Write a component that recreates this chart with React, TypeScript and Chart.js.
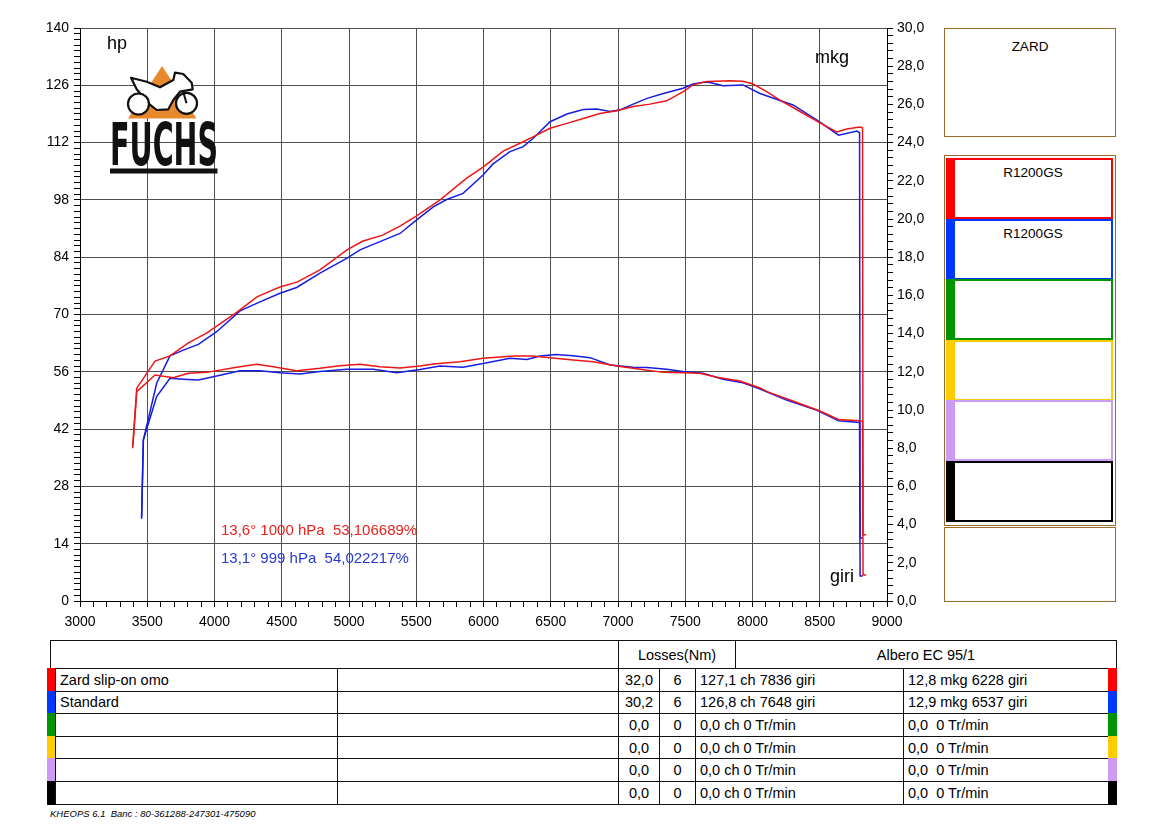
import React, { useEffect, useRef } from "react";
import { Chart, registerables } from "chart.js";

Chart.register(...registerables);

// Zard slip-on omo (red) - power curve, hp
const zardHpRpm = [3392, 3422, 3558, 3669, 3803, 3944, 4019, 4167, 4316, 4413, 4487, 4613, 4784, 4985, 5100, 5250, 5379, 5503, 5677, 5875, 5997, 6146, 6295, 6368, 6495, 6620, 6742, 6866, 6992, 7113, 7238, 7362, 7483, 7558, 7660, 7836, 7929, 8004, 8108, 8204, 8353, 8502, 8626, 8700, 8799, 8818, 8822, 8845];
const zardHp = [37.9, 52.0, 58.6, 59.9, 63.0, 65.5, 67.2, 70.6, 74.3, 75.7, 76.7, 77.9, 80.9, 85.8, 87.9, 89.4, 91.6, 94.1, 98.0, 103.3, 106.0, 109.9, 112.2, 113.4, 115.5, 116.7, 117.9, 119.1, 119.8, 120.8, 121.4, 122.2, 124.4, 126.1, 126.9, 127.1, 127.0, 126.3, 124.4, 122.4, 119.6, 116.8, 114.6, 115.3, 115.8, 115.6, 16.2, 16.2];

// Zard slip-on omo (red) - torque curve, mkg
const zardMkgRpm = [3392, 3422, 3558, 3694, 3805, 3942, 4165, 4314, 4437, 4611, 4784, 4933, 5082, 5230, 5379, 5528, 5627, 5825, 5997, 6228, 6368, 6495, 6666, 6816, 6992, 7164, 7338, 7483, 7610, 7734, 7907, 8056, 8108, 8279, 8502, 8638, 8799, 8818, 8822, 8845];
const zardMkg = [8.0, 10.96, 11.83, 11.69, 11.92, 11.97, 12.24, 12.39, 12.27, 12.06, 12.18, 12.32, 12.39, 12.27, 12.2, 12.3, 12.41, 12.53, 12.71, 12.83, 12.83, 12.74, 12.62, 12.53, 12.3, 12.13, 11.97, 11.95, 11.92, 11.71, 11.52, 11.15, 10.96, 10.52, 9.95, 9.5, 9.44, 9.42, 1.36, 1.36];

// Standard (blue) - power curve, hp
const stdHpRpm = [3458, 3471, 3570, 3669, 3768, 3880, 4016, 4190, 4338, 4487, 4611, 4784, 4983, 5082, 5230, 5379, 5503, 5627, 5726, 5848, 5997, 6071, 6197, 6295, 6368, 6495, 6620, 6742, 6843, 6941, 7015, 7113, 7216, 7338, 7483, 7558, 7648, 7684, 7781, 7929, 8056, 8178, 8301, 8480, 8640, 8777, 8796, 8800, 8820];
const stdHp = [20.6, 39.3, 53.2, 59.9, 61.3, 62.7, 65.8, 70.9, 73.1, 75.2, 76.6, 80.1, 83.7, 85.8, 87.8, 89.8, 93.1, 96.3, 98.1, 99.6, 104.1, 106.8, 109.8, 111.0, 113.0, 117.1, 119.0, 120.1, 120.2, 119.6, 120.0, 121.4, 122.8, 124.0, 125.3, 126.3, 126.8, 126.7, 125.9, 126.1, 124.0, 122.6, 121.2, 117.5, 113.8, 114.8, 114.4, 15.4, 15.4];

// Standard (blue) - torque curve, mkg
const stdMkgRpm = [3458, 3471, 3570, 3669, 3768, 3880, 4016, 4190, 4338, 4487, 4636, 4784, 4983, 5181, 5355, 5528, 5677, 5848, 5997, 6197, 6323, 6420, 6537, 6666, 6792, 6941, 7113, 7216, 7362, 7483, 7632, 7781, 7929, 8056, 8253, 8480, 8640, 8796, 8800, 8820];
const stdMkg = [4.3, 8.43, 10.7, 11.66, 11.61, 11.57, 11.78, 12.06, 12.06, 11.95, 11.88, 12.01, 12.13, 12.13, 11.95, 12.12, 12.3, 12.24, 12.44, 12.71, 12.65, 12.83, 12.9, 12.84, 12.74, 12.36, 12.24, 12.22, 12.13, 12.01, 11.92, 11.61, 11.43, 11.1, 10.52, 9.98, 9.44, 9.35, 1.31, 1.31];

// axis labels
const rpmLabels = [3000, 3500, 4000, 4500, 5000, 5500, 6000, 6500, 7000, 7500, 8000, 8500, 9000];
const hpLabels = [0, 14, 28, 42, 56, 70, 84, 98, 112, 126, 140];
const mkgLabels = [0, 2, 4, 6, 8, 10, 12, 14, 16, 18, 20, 22, 24, 26, 28, 30];

// table + side panel text
const runColors = ["#ff0000", "#0037ff", "#009400", "#ffcc00", "#cc9cf4", "#000000"];
const runNames = ["Zard slip-on omo", "Standard", "", "", "", ""];
const runLosses = ["32,0", "30,2", "0,0", "0,0", "0,0", "0,0"];
const runGear = ["6", "6", "0", "0", "0", "0"];
const runPower = ["127,1 ch 7836 giri", "126,8 ch 7648 giri", "0,0 ch 0 Tr/min", "0,0 ch 0 Tr/min", "0,0 ch 0 Tr/min", "0,0 ch 0 Tr/min"];
const runTorque = ["12,8 mkg 6228 giri", "12,9 mkg 6537 giri", "0,0  0 Tr/min", "0,0  0 Tr/min", "0,0  0 Tr/min", "0,0  0 Tr/min"];
const panelTitles = ["R1200GS", "R1200GS", "", "", "", ""];

const RED = "rgb(236,22,22)";
const BLUE = "rgb(24,28,222)";
const BROWN = "#9c6a2c";
const FONT = '"Liberation Sans", Arial, sans-serif';
const GRID = "#505050";

const pts = (xs: number[], ys: number[]) => xs.map((x, i) => ({ x, y: ys[i] }));
const near = (v: number, list: number[]) => list.some((l) => Math.abs(l - v) < 1e-6);

const DynoChart: React.FC = () => {
  const ref = useRef<HTMLCanvasElement>(null);

  useEffect(() => {
    if (!ref.current) return;
    const tickFont = { family: FONT, size: 14 };
    const chart = new Chart(ref.current, {
      type: "line",
      data: {
        datasets: [
          { data: pts(zardHpRpm, zardHp), borderColor: RED, yAxisID: "y" },
          { data: pts(zardMkgRpm, zardMkg), borderColor: RED, yAxisID: "y2" },
          { data: pts(stdHpRpm, stdHp), borderColor: BLUE, yAxisID: "y" },
          { data: pts(stdMkgRpm, stdMkg), borderColor: BLUE, yAxisID: "y2" },
        ],
      },
      options: {
        animation: false,
        responsive: false,
        layout: { padding: { top: 28, left: 0, right: 0, bottom: 0 } },
        elements: {
          point: { radius: 0 },
          line: { borderWidth: 1.5, tension: 0 },
        },
        plugins: {
          legend: { display: false },
          tooltip: { enabled: false },
        },
        scales: {
          x: {
            type: "linear",
            min: 3000,
            max: 9000,
            ticks: {
              stepSize: 100,
              autoSkip: false,
              maxRotation: 0,
              padding: 7,
              color: "#000",
              font: tickFont,
              callback: (v) => (near(Number(v), rpmLabels) ? String(v) : ""),
            },
            grid: {
              color: (c: any) => (near(c.tick.value, rpmLabels) ? GRID : "rgba(0,0,0,0)"),
              tickColor: "#000",
              tickLength: 6,
            },
            border: { color: "#000", width: 1 },
            afterFit: (s: any) => {
              s.height = 39;
            },
          },
          y: {
            position: "left",
            min: 0,
            max: 140,
            ticks: {
              stepSize: 1.4,
              autoSkip: false,
              padding: 5,
              color: "#000",
              font: tickFont,
              callback: (v) => {
                const n = Number(v);
                return near(n, hpLabels) ? String(Math.round(n)) : "";
              },
            },
            grid: {
              color: (c: any) => (near(c.tick.value, hpLabels) ? GRID : "rgba(0,0,0,0)"),
              tickColor: "#000",
              tickLength: 6,
            },
            border: { color: "#000", width: 1 },
            afterFit: (s: any) => {
              s.width = 80;
            },
          },
          y2: {
            position: "right",
            min: 0,
            max: 30,
            ticks: {
              stepSize: 0.4,
              autoSkip: false,
              padding: 4,
              color: "#000",
              font: tickFont,
              callback: (v) => {
                const n = Number(v);
                return near(n, mkgLabels) ? n.toFixed(1).replace(".", ",") : "";
              },
            },
            grid: {
              drawOnChartArea: false,
              tickColor: "#000",
              tickLength: 6,
            },
            border: { color: "#000", width: 1 },
            afterFit: (s: any) => {
              s.width = 53;
            },
          },
        },
      },
    });
    return () => {
      chart.destroy();
    };
  }, []);

  return (
    <canvas
      ref={ref}
      width={940}
      height={640}
      style={{ position: "absolute", left: 0, top: 0, width: 940, height: 640 }}
    />
  );
};

const abs = (x: number, y: number, w: number, h: number, extra: React.CSSProperties = {}): React.CSSProperties => ({
  position: "absolute",
  left: x,
  top: y,
  width: w,
  height: h,
  boxSizing: "border-box",
  ...extra,
});

const Cell: React.FC<{ x: number; y: number; w: number; h: number; text?: string; align?: "left" | "center" }> = ({
  x,
  y,
  w,
  h,
  text,
  align = "left",
}) => (
  <div
    style={abs(x, y, w, h, {
      border: "1px solid #111",
      background: "#fff",
      display: "flex",
      alignItems: "center",
      justifyContent: align === "center" ? "center" : "flex-start",
      paddingLeft: align === "center" ? 0 : 4,
      fontSize: 14.5,
      whiteSpace: "pre",
      overflow: "hidden",
    })}
  >
    {text}
  </div>
);

const Logo: React.FC = () => (
  <svg style={{ position: "absolute", left: 100, top: 60, width: 130, height: 120 }} viewBox="100 60 130 120">
    <polygon points="162,66 128,118.5 196.5,118.5" fill="#e88a2c" />
    <polygon
      points="131,77.7 146.7,81.7 160,87.3 173.3,80 175,72.7 183.3,74 191.7,82.7 192.7,89.3 180,91.7 173.3,100 168.3,109.3 156.7,110 148.3,103.3 136.7,89.3"
      fill="#fff"
      stroke="#111"
      strokeWidth={2.2}
      strokeLinejoin="round"
    />
    <circle cx={138.5} cy={104} r={10.5} fill="#fff" stroke="#111" strokeWidth={2.2} />
    <circle cx={186.5} cy={103.3} r={10.5} fill="#fff" stroke="#111" strokeWidth={2.2} />
    <line x1={186.5} y1={103.3} x2={183} y2={91} stroke="#111" strokeWidth={2} />
    <text
      x={110}
      y={165}
      fontFamily='"DejaVu Sans", sans-serif'
      fontWeight={900}
      fontSize={58}
      textLength={108}
      lengthAdjust="spacingAndGlyphs"
      fill="#111"
    >
      FUCHS
    </text>
    <rect x={110} y={168.5} width={107.5} height={5} fill="#111" />
  </svg>
);

const App: React.FC = () => {
  const rowTop = (i: number) => 668 + i * 22.6;
  const rowH = 23.6;
  return (
    <div style={abs(0, 0, 1149, 834, { background: "#fff", fontFamily: FONT, color: "#000", overflow: "hidden" })}>
      <DynoChart />
      <Logo />

      <div style={abs(107, 33, 50, 24, { fontSize: 18 })}>hp</div>
      <div style={abs(815, 47, 50, 24, { fontSize: 18 })}>mkg</div>
      <div style={abs(830, 566, 40, 24, { fontSize: 18 })}>giri</div>

      <div style={abs(221, 521, 280, 18, { fontSize: 15, color: "#e8231e", whiteSpace: "pre" })}>
        {"13,6° 1000 hPa  53,106689%"}
      </div>
      <div style={abs(221, 549, 280, 18, { fontSize: 15, color: "#2638d0", whiteSpace: "pre" })}>
        {"13,1° 999 hPa  54,022217%"}
      </div>

      {/* side panel */}
      <div style={abs(944, 28, 172, 109, { border: `1.5px solid ${BROWN}`, textAlign: "center", paddingTop: 10, fontSize: 13.5 })}>
        ZARD
      </div>
      <div style={abs(944, 155, 172, 371, { border: `1.5px solid ${BROWN}` })} />
      {runColors.map((c, i) => (
        <div
          key={c}
          style={abs(946, 158 + i * 60.5, 167, 61, {
            border: `2px solid ${c}`,
            borderLeft: `9px solid ${c}`,
            boxShadow: "inset 0 0 0 1px rgba(255,255,255,0.6)",
            background: "#fff",
            textAlign: "center",
            paddingTop: 5,
            fontSize: 13.5,
          })}
        >
          {panelTitles[i]}
        </div>
      ))}
      <div style={abs(944, 527, 172, 75, { border: `1.5px solid ${BROWN}` })} />

      {/* results table */}
      <Cell x={50} y={640} w={569} h={29} />
      <Cell x={618} y={640} w={118} h={29} text="Losses(Nm)" align="center" />
      <Cell x={735} y={640} w={382} h={29} text="Albero EC 95/1" align="center" />
      {runColors.map((c, i) => (
        <React.Fragment key={"row" + i}>
          <div style={abs(47, rowTop(i), 9, rowH, { background: c })} />
          <Cell x={55} y={rowTop(i)} w={283} h={rowH} text={runNames[i]} />
          <Cell x={337} y={rowTop(i)} w={282} h={rowH} />
          <Cell x={618} y={rowTop(i)} w={42} h={rowH} text={runLosses[i]} align="center" />
          <Cell x={659} y={rowTop(i)} w={37} h={rowH} text={runGear[i]} align="center" />
          <Cell x={695} y={rowTop(i)} w={209} h={rowH} text={runPower[i]} />
          <Cell x={903} y={rowTop(i)} w={206} h={rowH} text={runTorque[i]} />
          <div style={abs(1108, rowTop(i), 9, rowH, { background: c })} />
        </React.Fragment>
      ))}

      <div style={abs(50, 808, 300, 14, { fontSize: 9.5, fontStyle: "italic", whiteSpace: "pre" })}>
        {"KHEOPS 6.1  Banc : 80-361288-247301-475090"}
      </div>
    </div>
  );
};

export default App;
